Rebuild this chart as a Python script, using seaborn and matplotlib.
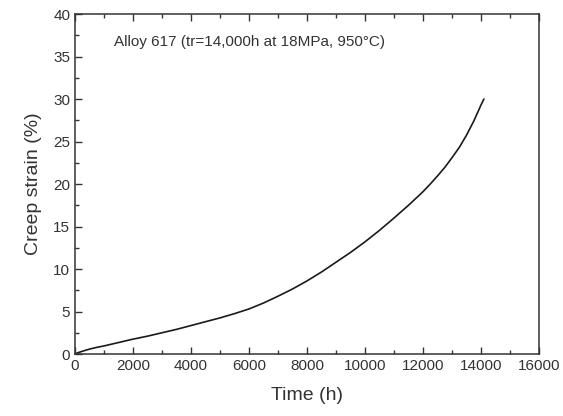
import matplotlib
matplotlib.use("Agg")
import matplotlib.pyplot as plt
import seaborn as sns
import pandas as pd
from matplotlib.ticker import MultipleLocator

# creep curve
time_h = [0, 100, 250, 500, 750, 1000, 1500, 2000, 2500, 3000, 3500, 4000, 4500,
          5000, 5500, 6000, 6500, 7000, 7500, 8000, 8500, 9000, 9500, 10000,
          10500, 11000, 11500, 12000, 12250, 12500, 12750, 13000, 13250, 13500,
          13750, 14000, 14100]
strain_pct = [0, 0.15, 0.32, 0.58, 0.78, 0.95, 1.35, 1.75, 2.1, 2.5, 2.9, 3.35,
              3.8, 4.25, 4.75, 5.3, 6.0, 6.8, 7.65, 8.6, 9.65, 10.8, 11.95, 13.2,
              14.55, 16.0, 17.5, 19.1, 20.0, 20.95, 21.95, 23.1, 24.3, 25.75,
              27.4, 29.3, 30.0]
note = "Alloy 617 (tr=14,000h at 18MPa, 950\u00b0C)"

sns.set_theme(style="ticks")
plt.rcParams["font.family"] = ["Liberation Sans", "DejaVu Sans"]
dark = "#333333"

df = pd.DataFrame({"time": time_h, "strain": strain_pct})

fig = plt.figure(figsize=(5.63, 4.16), dpi=100)
ax = fig.add_axes([0.1332, 0.149, 0.8242, 0.8173])
sns.lineplot(data=df, x="time", y="strain", color="#1a1a1a", lw=1.2, ax=ax)

ax.set_xlim(0, 16000); ax.set_ylim(0, 40)
ax.xaxis.set_major_locator(MultipleLocator(2000)); ax.xaxis.set_minor_locator(MultipleLocator(1000))
ax.yaxis.set_major_locator(MultipleLocator(5)); ax.yaxis.set_minor_locator(MultipleLocator(2.5))
ax.tick_params(which="both", direction="in", top=True, right=False, colors=dark,
               labelsize=11, width=1)
ax.tick_params(which="major", length=5)
ax.tick_params(which="minor", length=3)
for s in ax.spines.values():
    s.set_color(dark); s.set_linewidth(1.1)

ax.set_xlabel("Time (h)", fontsize=14, color=dark, labelpad=10)
ax.set_ylabel("Creep strain (%)", fontsize=14, color=dark, labelpad=8)
ax.text(0.083, 0.917, note, transform=ax.transAxes, fontsize=11, color=dark, va="center")

fig.savefig("out.png", dpi=100)
